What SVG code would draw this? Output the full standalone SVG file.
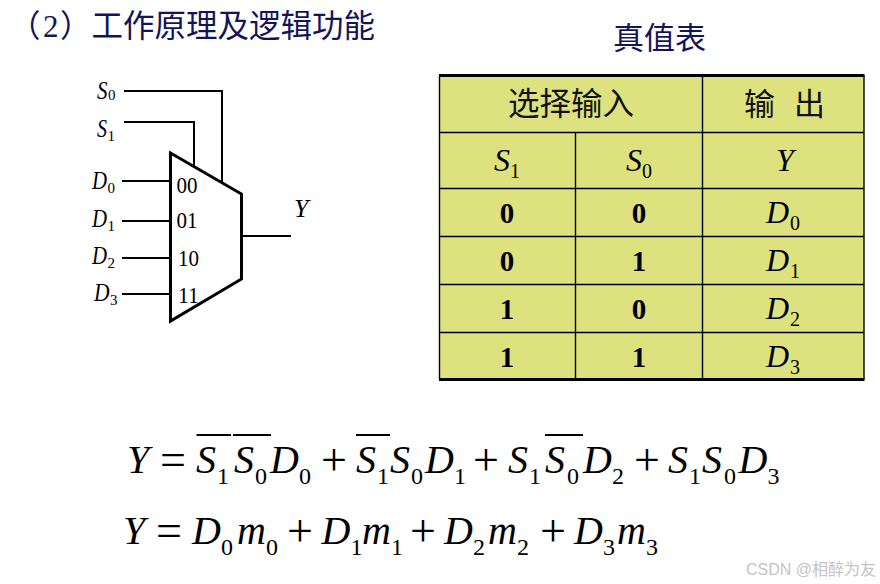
<svg xmlns="http://www.w3.org/2000/svg" width="880" height="584" viewBox="0 0 880 584">
<style>
.t{font-family:"Liberation Serif","Times New Roman",serif;fill:#000}
.i{font-style:italic}
.cn{font-family:"Noto Sans CJK SC","Noto Sans CJK JP",sans-serif;fill:#111}
.navy{fill:#14145a}
.m{font-size:40px}.ms{font-size:24px}.op{font-size:46px}
.d{font-size:26px}.ds{font-size:15px}
.n{font-size:24px}
.b{font-size:29px;font-weight:bold;text-anchor:middle}
.h{font-size:32px}.hs{font-size:20px}
.l{stroke:#000;stroke-width:2;fill:none}
.g{stroke:#000;stroke-width:1.4;fill:none}
</style>
<rect width="880" height="584" fill="#fff"/>
<g id="title">
<text class="cn navy" x="9" y="37" font-size="31.5">（</text>
<text class="t navy" x="43" y="37" font-size="31">2</text>
<text class="cn navy" x="60" y="37" font-size="31.5">）工作原理及逻辑功能</text>
</g>
<g id="table-title"><text class="cn navy" x="613" y="49" font-size="31">真值表</text></g>
<g id="connectors">
<polyline class="l" points="124,91 222,91 222,182"/>
<polyline class="l" points="124,122 194,122 194,166"/>
<line class="l" x1="122" y1="181" x2="171" y2="181"/>
<line class="l" x1="122" y1="221" x2="171" y2="221"/>
<line class="l" x1="122" y1="258" x2="171" y2="258"/>
<line class="l" x1="122" y1="294" x2="171" y2="294"/>
<line class="l" x1="242" y1="236" x2="291" y2="236"/>
</g>
<g id="mux">
<polygon points="170.5,153 241.5,194 241.5,279 170.5,321" fill="#fff" stroke="#000" stroke-width="3"/>
<text class="t n" x="176.5" y="192.5" textLength="21" lengthAdjust="spacingAndGlyphs">00</text>
<text class="t n" x="176.5" y="228" textLength="21" lengthAdjust="spacingAndGlyphs">01</text>
<text class="t n" x="178" y="266" textLength="21" lengthAdjust="spacingAndGlyphs">10</text>
<text class="t n" x="178" y="302.5" textLength="21" lengthAdjust="spacingAndGlyphs">11</text>
</g>
<g id="mux-labels">
<text class="t i d" x="97" y="99" textLength="10.5" lengthAdjust="spacingAndGlyphs">S</text><text class="t ds" x="108" y="100">0</text>
<text class="t i d" x="97" y="137" textLength="10" lengthAdjust="spacingAndGlyphs">S</text><text class="t ds" x="107.5" y="141">1</text>
<text class="t i d" x="92" y="189" textLength="15" lengthAdjust="spacingAndGlyphs">D</text><text class="t ds" x="107.5" y="193">0</text>
<text class="t i d" x="92" y="227" textLength="15" lengthAdjust="spacingAndGlyphs">D</text><text class="t ds" x="107.5" y="231">1</text>
<text class="t i d" x="92" y="264" textLength="15" lengthAdjust="spacingAndGlyphs">D</text><text class="t ds" x="107.5" y="268">2</text>
<text class="t i d" x="94" y="301" textLength="15.5" lengthAdjust="spacingAndGlyphs">D</text><text class="t ds" x="110" y="305">3</text>
<text class="t i d" x="294" y="217">Y</text>
</g>
<g id="truth-table">
<rect x="439.5" y="75.5" width="424.5" height="304" fill="#dde27f" stroke="none"/>
<g class="g">
<line x1="439.5" y1="132.5" x2="864" y2="132.5"/>
<line x1="439.5" y1="188.5" x2="864" y2="188.5"/>
<line x1="439.5" y1="236.5" x2="864" y2="236.5"/>
<line x1="439.5" y1="284.5" x2="864" y2="284.5"/>
<line x1="439.5" y1="332.5" x2="864" y2="332.5"/>
<line x1="575.5" y1="132.5" x2="575.5" y2="379"/>
<line x1="702.5" y1="75.5" x2="702.5" y2="379"/>
<line x1="439.5" y1="75.5" x2="439.5" y2="379"/>
<line x1="864" y1="75.5" x2="864" y2="379"/>
</g>
<line x1="439" y1="75.5" x2="864.5" y2="75.5" stroke="#000" stroke-width="3"/>
<line x1="439" y1="379.5" x2="864.5" y2="379.5" stroke="#000" stroke-width="3"/>
<text class="cn" x="508" y="115" font-size="31.5">选择输入</text>
<text class="cn" x="744" y="115" font-size="31">输</text>
<text class="cn" x="794" y="115" font-size="31">出</text>
<text class="t i h" x="494" y="171">S</text><text class="t hs" x="510" y="178">1</text>
<text class="t i h" x="626" y="171">S</text><text class="t hs" x="642" y="178">0</text>
<text class="t i h" x="776" y="171">Y</text>
<text class="t b" x="507" y="223">0</text><text class="t b" x="639" y="223">0</text>
<text class="t b" x="507" y="271">0</text><text class="t b" x="639" y="271">1</text>
<text class="t b" x="507" y="319">1</text><text class="t b" x="639" y="319">0</text>
<text class="t b" x="507" y="367">1</text><text class="t b" x="639" y="367">1</text>
<text class="t i h" x="766" y="223">D</text><text class="t hs" x="790" y="230">0</text>
<text class="t i h" x="766" y="271">D</text><text class="t hs" x="790" y="278">1</text>
<text class="t i h" x="766" y="319">D</text><text class="t hs" x="790" y="326">2</text>
<text class="t i h" x="766" y="367">D</text><text class="t hs" x="790" y="374">3</text>
</g>
<g id="equation-1">
<text class="t i m" x="127" y="473">Y</text><text class="t op" x="160" y="475">=</text>
<text class="t i m" x="196" y="473">S</text><text class="t ms" x="217" y="484">1</text>
<text class="t i m" x="234" y="473">S</text><text class="t ms" x="255" y="484">0</text>
<text class="t i m" x="270" y="473">D</text><text class="t ms" x="299" y="484">0</text>
<text class="t op" x="321" y="475">+</text>
<text class="t i m" x="356" y="473">S</text><text class="t ms" x="377" y="484">1</text>
<text class="t i m" x="390" y="473">S</text><text class="t ms" x="411" y="484">0</text>
<text class="t i m" x="425" y="473">D</text><text class="t ms" x="454" y="484">1</text>
<text class="t op" x="473" y="475">+</text>
<text class="t i m" x="508" y="473">S</text><text class="t ms" x="529" y="484">1</text>
<text class="t i m" x="545" y="473">S</text><text class="t ms" x="567" y="484">0</text>
<text class="t i m" x="583" y="473">D</text><text class="t ms" x="612" y="484">2</text>
<text class="t op" x="634" y="475">+</text>
<text class="t i m" x="668" y="473">S</text><text class="t ms" x="689" y="484">1</text>
<text class="t i m" x="702" y="473">S</text><text class="t ms" x="724" y="484">0</text>
<text class="t i m" x="738.5" y="473">D</text><text class="t ms" x="767.5" y="484">3</text>
<g stroke="#000" stroke-width="2">
<line x1="196.5" y1="435" x2="231" y2="435"/>
<line x1="233" y1="435" x2="271" y2="435"/>
<line x1="356" y1="435" x2="390" y2="435"/>
<line x1="545" y1="435" x2="583" y2="435"/>
</g>
</g>
<g id="equation-2">
<text class="t i m" x="123" y="544">Y</text><text class="t op" x="156" y="546">=</text>
<text class="t i m" x="192" y="544">D</text><text class="t ms" x="221" y="555">0</text>
<text class="t i m" x="237" y="544">m</text><text class="t ms" x="266" y="555">0</text>
<text class="t op" x="287" y="546">+</text>
<text class="t i m" x="321.5" y="544">D</text><text class="t ms" x="350.5" y="555">1</text>
<text class="t i m" x="362" y="544">m</text><text class="t ms" x="391" y="555">1</text>
<text class="t op" x="410" y="546">+</text>
<text class="t i m" x="444" y="544">D</text><text class="t ms" x="473" y="555">2</text>
<text class="t i m" x="488" y="544">m</text><text class="t ms" x="517" y="555">2</text>
<text class="t op" x="540" y="546">+</text>
<text class="t i m" x="574" y="544">D</text><text class="t ms" x="603" y="555">3</text>
<text class="t i m" x="617" y="544">m</text><text class="t ms" x="646" y="555">3</text>
</g>
<g id="watermark"><text x="746" y="575" font-size="16" fill="#c4c4c4" font-family="'Liberation Sans','Noto Sans CJK SC',sans-serif" textLength="130" lengthAdjust="spacingAndGlyphs">CSDN @相醉为友</text></g>
</svg>
